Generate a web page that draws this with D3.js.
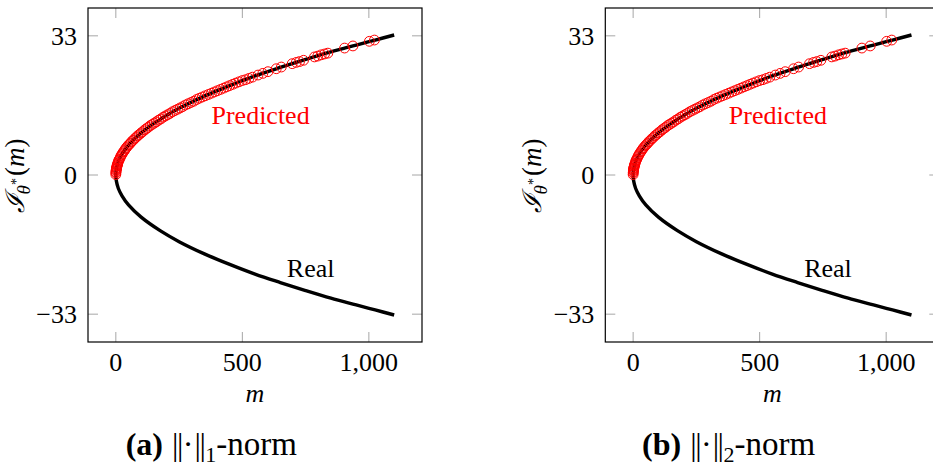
<!DOCTYPE html>
<html>
<head>
<meta charset="utf-8">
<script src="https://cdn.jsdelivr.net/npm/d3@7/dist/d3.min.js"></script>
<style>
  html, body { margin: 0; padding: 0; background: #fff; }
  svg { display: block; }
  text { font-family: "Liberation Serif", "DejaVu Serif", serif; fill: #000; }
</style>
</head>
<body>
<svg id="chart" width="933" height="466"></svg>
<script>
// ---- Data ----
const xTicks = [0, 500, 1000];
const yTicks = [-33, 0, 33];
const xTickLabels = ["0", "500", "1,000"];
const yTickLabels = ["\u221233", "0", "33"];

// Real curve (both branches), m vs I
const realM     = [0, 2, 10, 25, 50, 100, 175, 250, 350, 450, 550, 650, 750, 850, 950, 1025, 1100];
const realUpper = [0, 1.4, 3.2, 5.0, 7.1, 10.0, 13.2, 15.8, 18.7, 21.2, 23.5, 25.5, 27.4, 29.2, 30.8, 32.0, 33.2];
const realLower = [0, -1.4, -3.2, -5.0, -7.1, -10.0, -13.2, -15.8, -18.7, -21.2, -23.5, -25.5, -27.4, -29.2, -30.8, -32.0, -33.2];

// Predicted points (upper branch)
const predM = [0, 0.3, 0.5, 1, 1.5, 2, 2.5, 3, 4, 5, 6, 7, 8, 10, 12, 14, 17, 20, 23, 26, 30, 34, 38, 42, 47, 52, 57, 62, 68, 74, 80, 86, 93, 100, 107, 114, 121, 128, 136, 144, 152, 160, 169, 178, 187, 196, 205, 214, 224, 234, 244, 254, 264, 275, 286, 297, 308, 319, 330, 342, 354, 366, 378, 390, 402, 414, 426, 438, 450, 462, 474, 487, 500, 513, 526, 540, 562, 581, 601, 634, 654, 697, 713, 726, 742, 785, 798, 812, 825, 838, 904, 937, 1002, 1022];
const predI = [0.1, 0.5, 0.7, 1.0, 1.2, 1.4, 1.6, 1.7, 2.0, 2.2, 2.4, 2.6, 2.8, 3.2, 3.5, 3.7, 4.1, 4.5, 4.8, 5.1, 5.5, 5.8, 6.2, 6.5, 6.9, 7.2, 7.5, 7.9, 8.2, 8.6, 8.9, 9.3, 9.6, 10.0, 10.3, 10.7, 11.0, 11.3, 11.7, 12.0, 12.3, 12.6, 13.0, 13.3, 13.7, 14.0, 14.3, 14.6, 15.0, 15.3, 15.6, 15.9, 16.2, 16.6, 16.9, 17.2, 17.5, 17.9, 18.2, 18.5, 18.8, 19.1, 19.4, 19.7, 20.0, 20.3, 20.6, 20.9, 21.2, 21.5, 21.8, 22.1, 22.4, 22.6, 22.9, 23.2, 23.7, 24.1, 24.5, 25.2, 25.6, 26.4, 26.7, 26.9, 27.2, 28.0, 28.2, 28.5, 28.7, 28.9, 30.1, 30.6, 31.7, 32.0];

const panels = [
  { letter: "(a)", sub: "1", left: 88 },
  { letter: "(b)", sub: "2", left: 605.3 }
];

// ---- Drawing ----
const svg = d3.select("#chart");
const W = 334, yTop = 8, yBottom = 342;

const realPts = realM.slice().reverse().map((m, i) => [m, realLower[realM.length - 1 - i]])
  .concat(realM.slice(1).map((m, i) => [m, realUpper[i + 1]]));
const predPts = predM.map((m, i) => [m, predI[i]]);

panels.forEach((p, pi) => {
  const x = d3.scaleLinear().domain([-110, 1210]).range([p.left, p.left + W]);
  const y = d3.scaleLinear().domain([-39.6, 39.6]).range([yBottom, yTop]);
  const g = svg.append("g");

  // ticks (inside, all four sides)
  const tickLen = 10;
  const tg = g.append("g").attr("stroke", "#a6a6a6").attr("stroke-width", 1);
  xTicks.forEach(t => {
    tg.append("line").attr("x1", x(t)).attr("x2", x(t)).attr("y1", yBottom).attr("y2", yBottom - tickLen);
    tg.append("line").attr("x1", x(t)).attr("x2", x(t)).attr("y1", yTop).attr("y2", yTop + tickLen);
  });
  yTicks.forEach(t => {
    tg.append("line").attr("y1", y(t)).attr("y2", y(t)).attr("x1", p.left).attr("x2", p.left + tickLen);
    tg.append("line").attr("y1", y(t)).attr("y2", y(t)).attr("x1", p.left + W).attr("x2", p.left + W - tickLen);
  });

  // Real curve
  const line = d3.line().x(d => x(d[0])).y(d => y(d[1])).curve(d3.curveCatmullRom.alpha(0.5));
  g.append("path").datum(realPts).attr("d", line)
    .attr("fill", "none").attr("stroke", "#000").attr("stroke-width", 3.4).attr("stroke-linecap", "butt");

  // Predicted circles
  g.append("g").selectAll("circle").data(predPts).join("circle")
    .attr("cx", d => x(d[0])).attr("cy", d => y(d[1])).attr("r", 4.9)
    .attr("fill", "none").attr("stroke", "#ff0000").attr("stroke-width", 1);

  // frame
  g.append("rect").attr("x", p.left).attr("y", yTop).attr("width", W).attr("height", yBottom - yTop)
    .attr("fill", "none").attr("stroke", "#000").attr("stroke-width", 1.2);

  // tick labels
  xTicks.forEach((t, i) => {
    g.append("text").attr("x", x(t)).attr("y", 371).attr("text-anchor", "middle")
      .attr("font-size", 26).text(xTickLabels[i]);
  });
  yTicks.forEach((t, i) => {
    g.append("text").attr("x", p.left - 11).attr("y", y(t) + 8.8).attr("text-anchor", "end")
      .attr("font-size", 26).text(yTickLabels[i]);
  });

  // annotations
  g.append("text").attr("x", x(572)).attr("y", y(12)).attr("text-anchor", "middle")
    .attr("font-size", 26).style("fill", "#ff0000").text("Predicted");
  g.append("text").attr("x", x(770)).attr("y", y(-24.2)).attr("text-anchor", "middle")
    .attr("font-size", 26).text("Real");

  // axis labels
  g.append("text").attr("x", p.left + W / 2).attr("y", 402).attr("text-anchor", "middle")
    .attr("font-size", 26).attr("font-style", "italic").text("m");

  const yl = g.append("text").attr("transform", `translate(${p.left - 64},176) rotate(-90)`)
    .attr("text-anchor", "middle").attr("font-size", 27);
  yl.append("tspan").attr("font-family", "DejaVu Serif").attr("font-style", "italic").attr("font-size", 26).text("\u2110");
  yl.append("tspan").attr("font-style", "italic").attr("font-size", 19).attr("dy", 6).text("\u03b8");
  yl.append("tspan").attr("font-size", 14).attr("dy", -9).text("*");
  yl.append("tspan").attr("dy", 3).attr("dx", 2).text("(");
  yl.append("tspan").attr("font-style", "italic").text("m");
  yl.append("tspan").text(")");

  // caption, centred under the subfigure
  const cap = g.append("text").attr("y", 455).attr("font-size", 32);
  cap.append("tspan").attr("font-weight", "bold").text(p.letter);
  cap.append("tspan").attr("dx", 9).attr("letter-spacing", -1.5).text("||");
  cap.append("tspan").attr("dx", 1).text("\u00b7");
  cap.append("tspan").attr("dx", 1).attr("letter-spacing", -1.5).text("||");
  cap.append("tspan").attr("font-size", 22).attr("dy", 7).attr("dx", 1).text(p.sub);
  cap.append("tspan").attr("dy", -7).attr("font-size", 33).text("-norm");
  const bb = cap.node().getBBox();
  const center = p.left - 88 + 211.5;
  cap.attr("x", center - bb.width / 2);
});
</script>
</body>
</html>
